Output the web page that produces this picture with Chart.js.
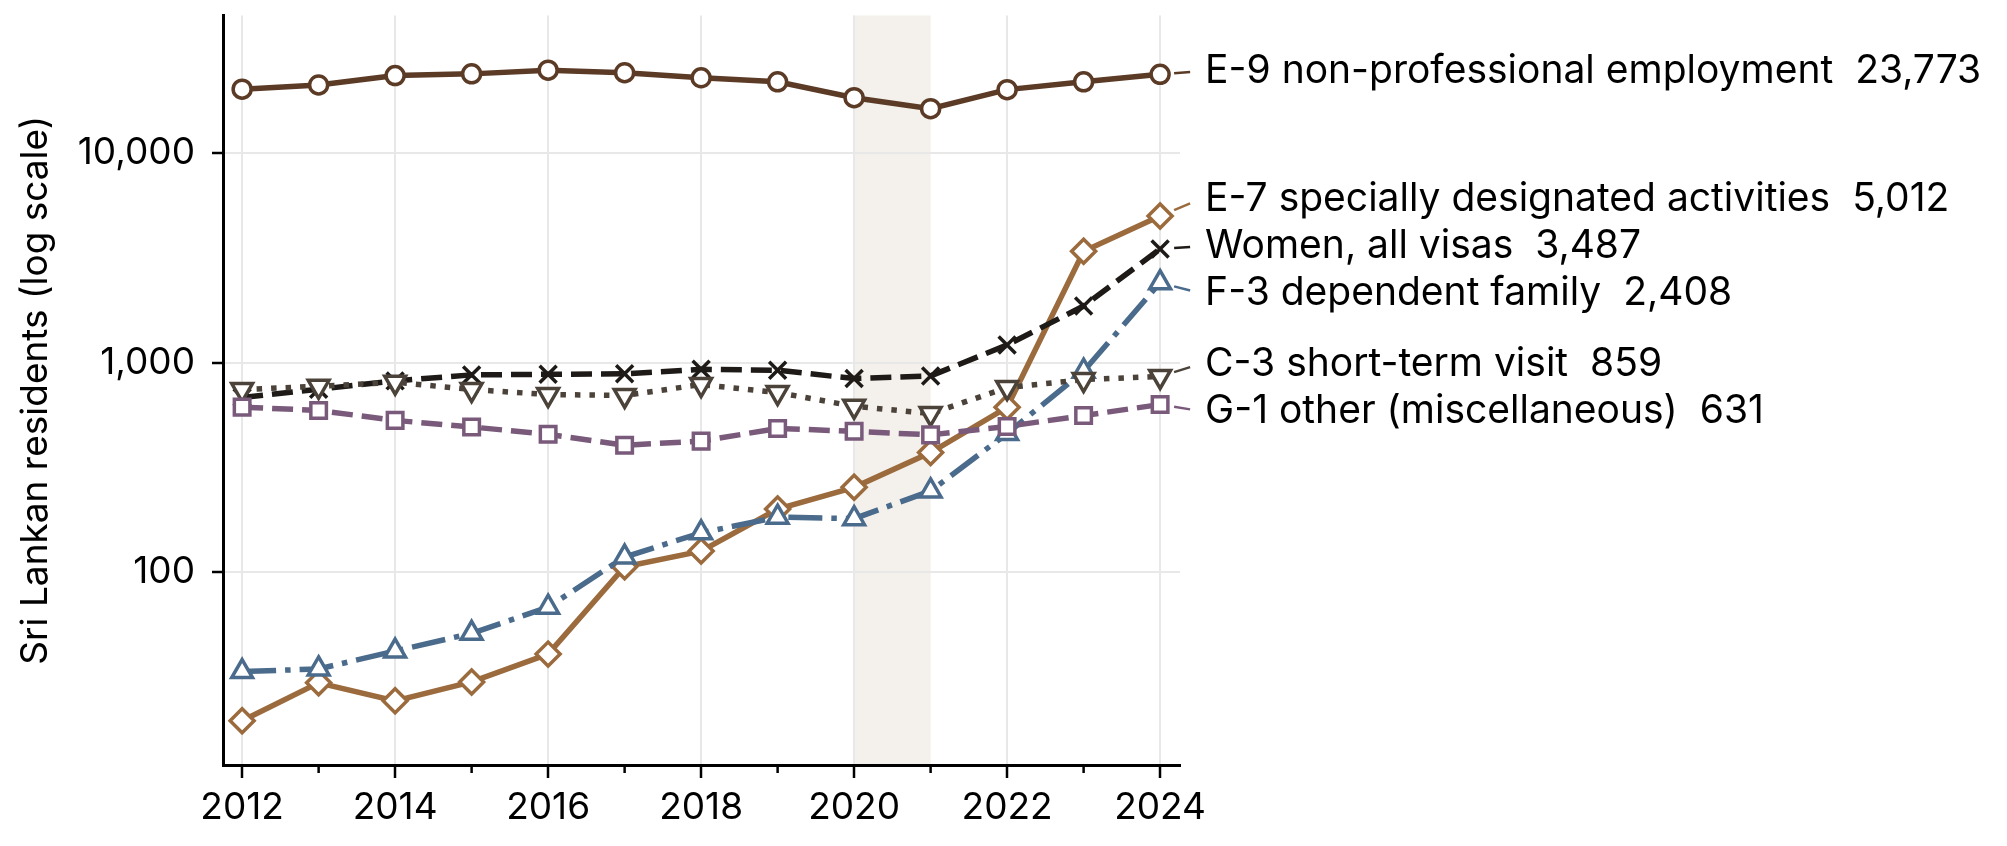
<!DOCTYPE html>
<html>
<head>
<meta charset="utf-8">
<script src="https://cdn.jsdelivr.net/npm/chart.js@4.4.1/dist/chart.umd.min.js"></script>
<style>
  html, body { margin: 0; padding: 0; background: #fff; }
  #wrap { width: 2007px; height: 846px; position: relative; }
</style>
</head>
<body>
<div id="wrap"><canvas id="visaChart"></canvas></div>
<script>
// data
var years = [2012, 2013, 2014, 2015, 2016, 2017, 2018, 2019, 2020, 2021, 2022, 2023, 2024];
var e9 = [20200, 21150, 23450, 23900, 24900, 24200, 22900, 21900, 18400, 16300, 20100, 21900, 23773];
var e7 = [19.5, 29.6, 24.3, 29.9, 40.6, 106, 126, 200, 254, 372, 612, 3400, 5012];
var f3 = [33.5, 34.5, 42, 51, 68, 118, 154, 183, 180, 244, 459, 910, 2408];
var women = [681, 746, 818, 874, 880, 884, 929, 920, 839, 864, 1214, 1862, 3487];
var c3 = [744, 771, 806, 744, 704, 697, 786, 720, 619, 571, 760, 830, 859];
var g1 = [613, 591, 530, 493, 455, 403, 422, 485, 470, 452, 496, 559, 631];
var yTicks = [100, 1000, 10000];
var shadeFrom = 2020, shadeTo = 2021;

var FONT = 'Inter';
var FS = 37;
var LABEL_FS = 39;

function pts(vals) {
    return years.map(function (y, i) { return {x: y, y: vals[i]}; });
}

function series(label, vals, color, dash, style, radius, order, rotation) {
    return {
        label: label,
        data: pts(vals),
        borderColor: color,
        backgroundColor: color,
        borderWidth: 5.5,
        borderDash: dash,
        pointStyle: style,
        pointRadius: radius,
        pointRotation: rotation || 0,
        pointBackgroundColor: '#fff',
        pointBorderColor: color,
        pointBorderWidth: 3.5,
        pointHoverRadius: radius,
        tension: 0,
        order: order
    };
}

// shaded 2020-2021 band, drawn under the grid
var shadePlugin = {
    id: 'shade',
    beforeDraw: function (chart) {
        var x = chart.scales.x, a = chart.chartArea, ctx = chart.ctx;
        ctx.save();
        ctx.fillStyle = '#f4f1ec';
        var x0 = x.getPixelForValue(shadeFrom), x1 = x.getPixelForValue(shadeTo);
        ctx.fillRect(x0, a.top, x1 - x0, a.bottom - a.top);
        ctx.restore();
    }
};

// short ticks on odd years
var minorTicks = {
    id: 'minorTicks',
    afterDraw: function (chart) {
        var x = chart.scales.x, b = chart.chartArea.bottom, ctx = chart.ctx;
        ctx.save();
        ctx.strokeStyle = '#000';
        ctx.lineWidth = 2.5;
        years.forEach(function (y) {
            if (y % 2 === 0) return;
            var px = x.getPixelForValue(y);
            ctx.beginPath();
            ctx.moveTo(px, b);
            ctx.lineTo(px, b + 8);
            ctx.stroke();
        });
        ctx.restore();
    }
};

// direct labels at the right end of each line
var endLabels = {
    id: 'endLabels',
    afterDatasetsDraw: function (chart) {
        var ctx = chart.ctx, xs = chart.scales.x, ys = chart.scales.y;
        var items = chart.data.datasets.map(function (ds) {
            var last = ds.data[ds.data.length - 1];
            return {
                text: ds.label + '  ' + last.y.toLocaleString('en-US'),
                color: ds.borderColor,
                px: xs.getPixelForValue(last.x),
                py: ys.getPixelForValue(last.y)
            };
        });
        items.sort(function (a, b) { return a.py - b.py; });
        var gap = 47;
        items.forEach(function (it) { it.ly = it.py; });
        for (var k = 0; k < 200; k++) {
            var moved = false;
            for (var i = 1; i < items.length; i++) {
                var d = items[i].ly - items[i - 1].ly;
                if (d < gap) {
                    var push = (gap - d) / 2;
                    items[i].ly += push;
                    items[i - 1].ly -= push;
                    moved = true;
                }
            }
            if (!moved) break;
        }
        ctx.save();
        ctx.font = LABEL_FS + 'px ' + FONT;
        ctx.textBaseline = 'middle';
        ctx.textAlign = 'left';
        items.forEach(function (it) {
            var lx = it.px + 40;
            var ly = it.ly - 3;
            ctx.strokeStyle = it.color;
            ctx.lineWidth = 2.5;
            ctx.beginPath();
            ctx.moveTo(it.px + (lx - it.px) * 0.35, it.py + (ly - it.py) * 0.35);
            ctx.lineTo(it.px + (lx - it.px) * 0.75, it.py + (ly - it.py) * 0.75);
            ctx.stroke();
            ctx.fillStyle = '#000';
            ctx.fillText(it.text, it.px + 45, ly);
        });
        ctx.restore();
    }
};

var ctx = document.getElementById('visaChart').getContext('2d');
var chart = new Chart(ctx, {
    type: 'line',
    data: {
        datasets: [
            series('E-9 non-professional employment', e9, '#5b3b26', [], 'circle', 9, 6),
            series('E-7 specially designated activities', e7, '#9b6b3d', [], 'rectRot', 12, 5),
            series('F-3 dependent family', f3, '#4a6b8b', [34, 9, 5.5, 9], 'triangle', 12, 4),
            series('Women, all visas', women, '#1e1a17', [21, 9], 'crossRot', 12, 3),
            series('C-3 short-term visit', c3, '#4b4239', [5.5, 9], 'triangle', 12, 2, 180),
            series('G-1 other (miscellaneous)', g1, '#7a5a7b', [21, 9], 'rect', 11, 1)
        ]
    },
    options: {
        responsive: true,
        maintainAspectRatio: false,
        animation: false,
        devicePixelRatio: 1,
        layout: { padding: { top: 14, right: 827, bottom: 0, left: 0 } },
        plugins: {
            legend: { display: false },
            tooltip: { enabled: false }
        },
        scales: {
            x: {
                type: 'linear',
                min: 2011.75,
                max: 2024.26,
                afterBuildTicks: function (scale) {
                    scale.ticks = years.map(function (y) { return {value: y}; });
                },
                afterFit: function (scale) {
                    scale.height = 81;
                    scale.paddingLeft = 0;
                    scale.paddingRight = 0;
                },
                border: { display: true, color: '#000', width: 3 },
                grid: {
                    color: function (c) {
                        return (c.tick && c.tick.value % 2 === 0) ? '#e8e8e8' : 'rgba(0,0,0,0)';
                    },
                    lineWidth: 2,
                    drawTicks: true,
                    tickLength: 13,
                    tickWidth: 2.5,
                    tickColor: function (c) {
                        return (c.tick && c.tick.value % 2 === 0) ? '#000' : 'rgba(0,0,0,0)';
                    }
                },
                ticks: {
                    autoSkip: false,
                    maxRotation: 0,
                    padding: 8,
                    color: '#000',
                    font: { family: FONT, size: FS },
                    callback: function (v) { return v % 2 === 0 ? String(v) : ''; }
                }
            },
            y: {
                type: 'logarithmic',
                min: 12,
                max: 45400,
                afterBuildTicks: function (scale) {
                    scale.ticks = yTicks.map(function (v) { return {value: v}; });
                },
                afterFit: function (scale) {
                    scale.width = 223;
                    scale.paddingTop = 0;
                    scale.paddingBottom = 0;
                },
                border: { display: true, color: '#000', width: 3 },
                grid: {
                    color: '#e8e8e8',
                    lineWidth: 2,
                    drawTicks: true,
                    tickLength: 11,
                    tickWidth: 2.5,
                    tickColor: '#000'
                },
                ticks: {
                    padding: 17,
                    color: '#000',
                    font: { family: FONT, size: FS },
                    callback: function (v) { return Number(v).toLocaleString('en-US'); }
                },
                title: {
                    display: true,
                    text: 'Sri Lankan residents (log scale)',
                    color: '#000',
                    font: { family: FONT, size: FS },
                    padding: { top: 14, bottom: 0 }
                }
            }
        }
    },
    plugins: [shadePlugin, minorTicks, endLabels]
});
</script>
</body>
</html>
